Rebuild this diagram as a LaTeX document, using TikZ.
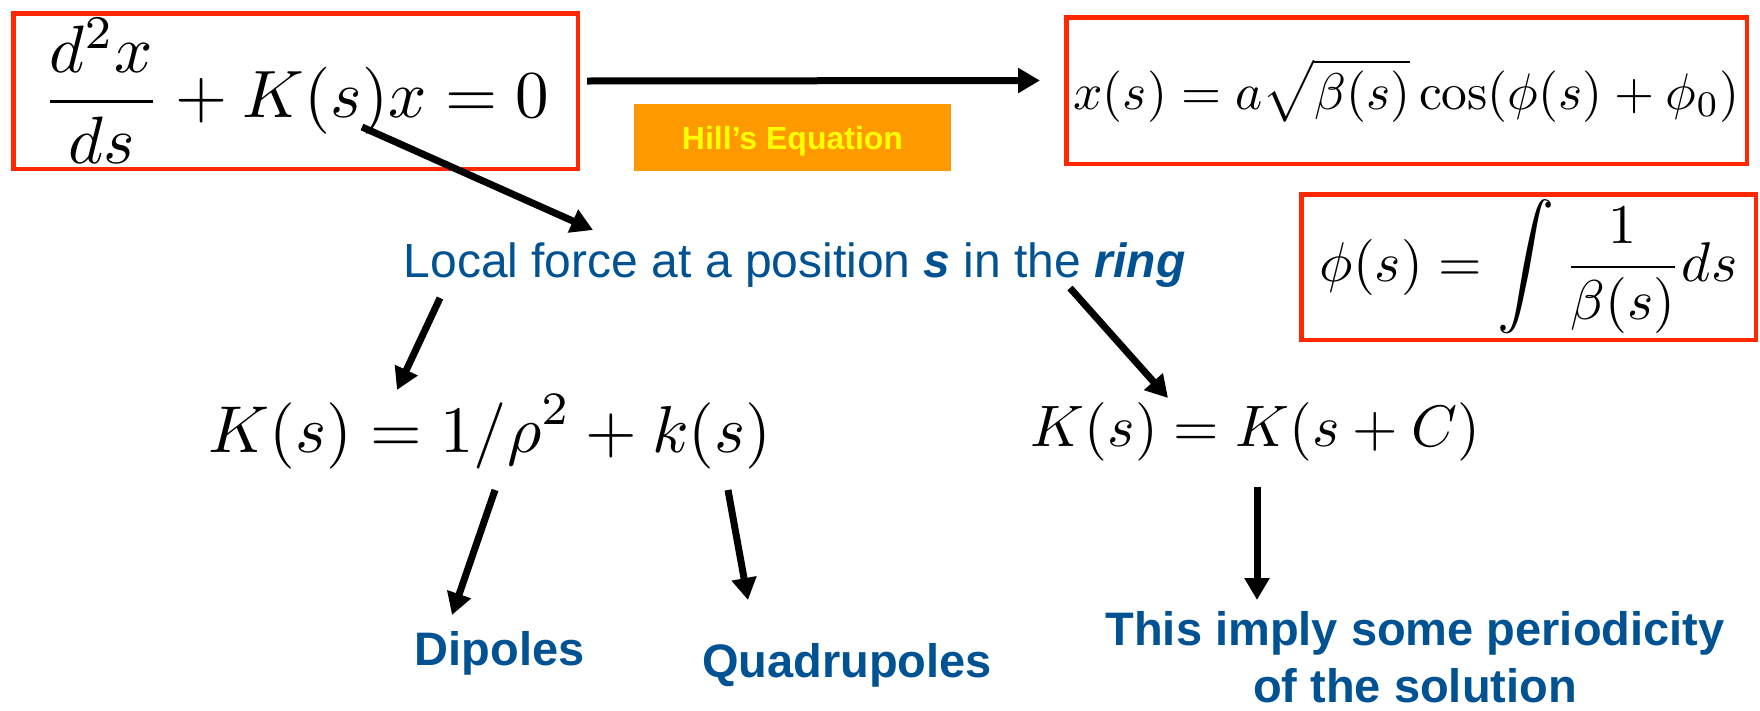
\documentclass[tikz,border=0pt]{standalone}
\usepackage{amsmath}
\usepackage{graphicx}
\usepackage{fontspec}
\newfontfamily\labelfont{Liberation Sans}
\usetikzlibrary{arrows.meta, positioning, calc}
\definecolor{boxred}{RGB}{255,40,0}
\definecolor{hillorange}{RGB}{255,153,0}
\definecolor{hillyellow}{RGB}{255,255,0}
\definecolor{noteblue}{RGB}{0,82,147}
\newcommand{\bigeq}[2]{\scalebox{#1}{$\displaystyle #2$}}
\newcommand{\tallint}{\mathop{\vcenter{\hbox{\scalebox{1.02}[1.08]{$\displaystyle\int$}}}}}

\begin{document}
\begin{tikzpicture}[
    x=1pt, y=-1pt,
    every node/.style={inner sep=0pt},
    eqbox/.style={draw=boxred, line width=4.5pt},
    note/.style={text=noteblue, font=\labelfont\fontsize{48}{57}\selectfont},
    notebold/.style={text=noteblue, font=\labelfont\bfseries\fontsize{47}{57}\selectfont},
    arrow/.style={-{Triangle[length=22pt, width=24pt]}, line width=7pt}
]
\useasboundingbox (0,0) rectangle (1760,710);

% equations in red frames
\node[eqbox, minimum width=564.5pt, minimum height=155.5pt] (hill) at (295.5,91)
    {\bigeq{6.7}{\frac{d^2x}{ds}+K(s)x=0}\hspace{17pt}};

\node[eqbox, minimum width=680.5pt, minimum height=146.5pt] (sol) at (1406.5,90.5)
    {\bigeq{5.15}{x(s)=a\sqrt{\beta(s)}\cos(\phi(s)+\phi_0)}};

\node[eqbox, minimum width=454.5pt, minimum height=145.5pt] (phase) at (1528.5,267)
    {\bigeq{5.6}{\phi(s)=\tallint\frac{1}{\beta(s)}ds}};

\node[fill=hillorange, minimum width=317pt, minimum height=67pt, text depth=0pt,
      text=hillyellow, font=\labelfont\bfseries\fontsize{32}{36}\selectfont]
    (hilltag) at (792.5,137.5) {Hill’s Equation};

% texts and the two forms of K(s)
\node[note, anchor=base] (force) at (794.5,277)
    {Local force at a position \textbf{\textit{s}} in the \textbf{\textit{ring}}};

\node (kdef) at (490,432) {\bigeq{6.63}{K(s)=1/\rho^2+k(s)}};
\node (kper) at (1255.5,432) {\bigeq{5.85}{K(s)=K(s+C)}};

\node[notebold, anchor=base] (dip) at (499.5,665) {Dipoles};
\node[notebold, anchor=base] (quad) at (847,677) {Quadrupoles};
\node[notebold, anchor=north, align=center] (period) at (1415,611)
    {This imply some periodicity\\of the solution};

\draw[arrow] ([xshift=7pt, yshift=10pt]hill.east) -- ([xshift=-24pt, yshift=10pt]sol.west);
\draw[arrow] ($(hill.center)+(66.5,36)$) -- ($(force.base)+(-201.5,-47)$);
\draw[arrow] ($(force.base)+(-354.5,21)$) -- ($(kdef.center)+(-93,-42)$);
\draw[arrow] ($(force.base)+(275.5,11)$) -- ($(kper.center)+(-87.5,-34)$);
\draw[arrow] ($(kdef.center)+(5,58)$) -- ($(dip.base)+(-47.5,-50)$);
\draw[arrow] ($(kdef.center)+(238,58)$) -- ($(quad.base)+(-99,-77)$);
\draw[arrow] ($(kper.center)+(1.5,55)$) -- ($(period.north)+(-158,-11)$);

\end{tikzpicture}
\end{document}
